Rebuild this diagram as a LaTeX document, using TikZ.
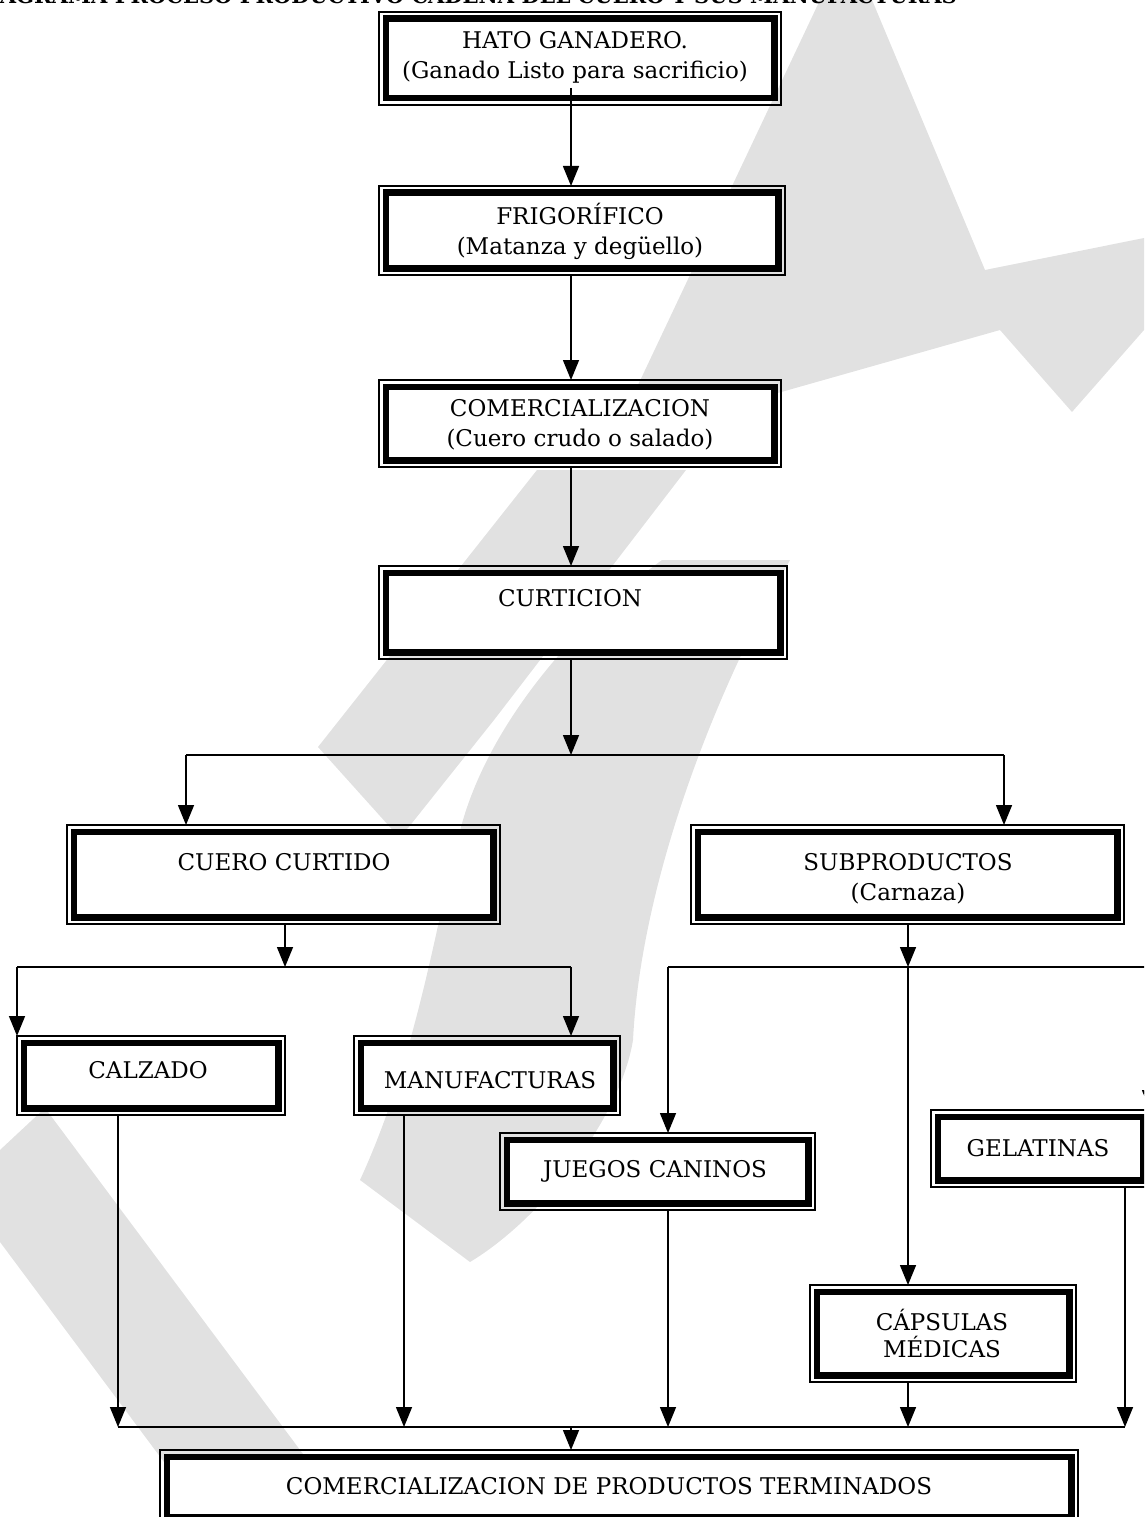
\documentclass[tikz,border=0pt]{standalone}
\usepackage{fontspec}
\setmainfont{DejaVu Serif}
\usetikzlibrary{arrows.meta,calc}
\definecolor{wm}{RGB}{225,225,225}
\newcommand\dbox[5]{%
  \node[boxi,minimum width={#4-#2-13.5},minimum height={#5-#3-13.5}] (#1) at ({(#2+#4)/2},{(#3+#5)/2}) {};
  \draw[frame] (#1.north west) rectangle (#1.south east);}
\begin{document}
\begin{tikzpicture}[x=1pt,y=-1pt,
  arr/.style={line width=1.5pt,-{Triangle[length=20pt,width=16pt]}},
  ln/.style={line width=1.5pt},
  boxi/.style={draw,fill=white,line width=6.5pt,inner sep=0pt,outer sep=6.75pt},
  frame/.style={line width=1.3pt},
  lbl/.style={font=\fontsize{23}{30}\selectfont,align=center,inner sep=0pt}]
\path[use as bounding box] (0,0) rectangle (1144,1517);
\clip (0,0) rectangle (1144,1517);
% watermark
\fill[wm] (820,0) -- (872,0) -- (985,270) -- (1144,238) -- (1144,330) -- (1072,412) -- (1000,330) -- (612,440) -- cycle;
\fill[wm] (0,1150) -- (45,1108) -- (350,1517) -- (205,1517) -- (0,1242) -- cycle;
\fill[wm] (537,470) -- (686,470) -- (494,720) -- (408,828) -- (398,836) -- (318,747) -- cycle;
\fill[wm] (790,560) .. controls (700,720) and (640,900) .. (633,1040)
  .. controls (620,1120) and (540,1220) .. (470,1262) -- (360,1180)
  .. controls (420,1050) and (440,900) .. (461,827)
  .. controls (490,720) and (580,620) .. (662,560) -- cycle;
% title (cut off at the top)
\node[font=\bfseries\fontsize{21}{24}\selectfont,anchor=base east,inner sep=0pt] (title) at (957,3.5) {DIAGRAMA PROCESO PRODUCTIVO CADENA DEL CUERO Y SUS MANUFACTURAS};
% boxes
\dbox{hato}{379}{12}{781}{105}
\dbox{frig}{379}{186}{785}{275}
\dbox{comerc}{379}{380}{781}{467}
\dbox{curt}{379}{566}{787}{659}
\dbox{cuero}{67}{825}{500}{924}
\dbox{subp}{691}{825}{1124}{924}
\dbox{calz}{17}{1036}{285}{1115}
\dbox{manu}{354}{1036}{620}{1115}
\dbox{juegos}{500}{1133}{815}{1210}
\dbox{gelat}{931}{1110}{1150}{1187}
\dbox{caps}{810}{1285}{1076}{1382}
\dbox{final}{160}{1450}{1078}{1524}
% texts
\node[lbl] (hato-t) at (575,57) {HATO GANADERO.\\(Ganado Listo para sacrificio)};
\node[lbl] (frig-t) at (580,231) {FRIGORÍFICO\\(Matanza y degüello)};
\node[lbl] (comerc-t) at (580,425) {COMERCIALIZACION\\(Cuero crudo o salado)};
\node[lbl] (curt-t) at (570,598) {CURTICION};
\node[lbl] (cuero-t) at (284,862) {CUERO CURTIDO};
\node[lbl] (subp-t) at (908,879) {SUBPRODUCTOS\\(Carnaza)};
\node[lbl] (calz-t) at (148,1070) {CALZADO};
\node[lbl] (manu-t) at (490,1080) {MANUFACTURAS};
\node[lbl] (juegos-t) at (655,1171) {JUEGOS CANINOS};
\node[lbl] (gelat-t) at (1038,1148) {GELATINAS};
\node[lbl,font=\fontsize{23}{27}\selectfont] (caps-t) at (942,1333) {CÁPSULAS\\MÉDICAS};
\node[lbl] (final-t) at (609,1486) {COMERCIALIZACION DE PRODUCTOS TERMINADOS};
% connectors
\coordinate (s0) at (571,88);
\draw[arr] (s0) -- (s0 |- frig.north);
\draw[arr] (s0 |- frig.south) -- (s0 |- comerc.north);
\draw[arr] (s0 |- comerc.south) -- (s0 |- curt.north);
\coordinate (j1) at (571,755);
\coordinate (j1l) at (186,755);
\coordinate (j1r) at (1004,755);
\draw[arr] (j1 |- curt.south) -- (j1);
\draw[ln] (j1l) -- (j1r);
\draw[arr] (j1l) -- (j1l |- cuero.north);
\draw[arr] (j1r) -- (j1r |- subp.north);
\coordinate (j2) at (285,967);
\coordinate (j2l) at (17,967);
\coordinate (j2r) at (571,967);
\draw[arr] (j2 |- cuero.south) -- (j2);
\draw[ln] (j2l) -- (j2r);
\draw[arr] (j2l) -- (j2l |- calz.north);
\draw[arr] (j2r) -- (j2r |- manu.north);
\coordinate (j3) at (908,967);
\coordinate (j3l) at (668,967);
\coordinate (j3r) at (1150,967);
\draw[arr] (j3 |- subp.south) -- (j3);
\draw[ln] (j3l) -- (j3r);
\draw[arr] (j3l) -- (j3l |- juegos.north);
\draw[arr] (j3) -- (j3 |- caps.north);
\draw[arr] (j3r) -- (j3r |- gelat.north);
\coordinate (b) at (571,1427);
\coordinate (bl) at (118,1427);
\coordinate (bm) at (404,1427);
\coordinate (bj) at (668,1427);
\coordinate (bc) at (908,1427);
\coordinate (br) at (1125,1427);
\draw[ln] (bl) -- (br);
\draw[arr] (bl |- calz.south) -- (bl);
\draw[arr] (bm |- manu.south) -- (bm);
\draw[arr] (bj |- juegos.south) -- (bj);
\draw[arr] (bc |- caps.south) -- (bc);
\draw[arr] (br |- gelat.south) -- (br);
\draw[arr] (b) -- (b |- final.north);
\end{tikzpicture}
\end{document}
